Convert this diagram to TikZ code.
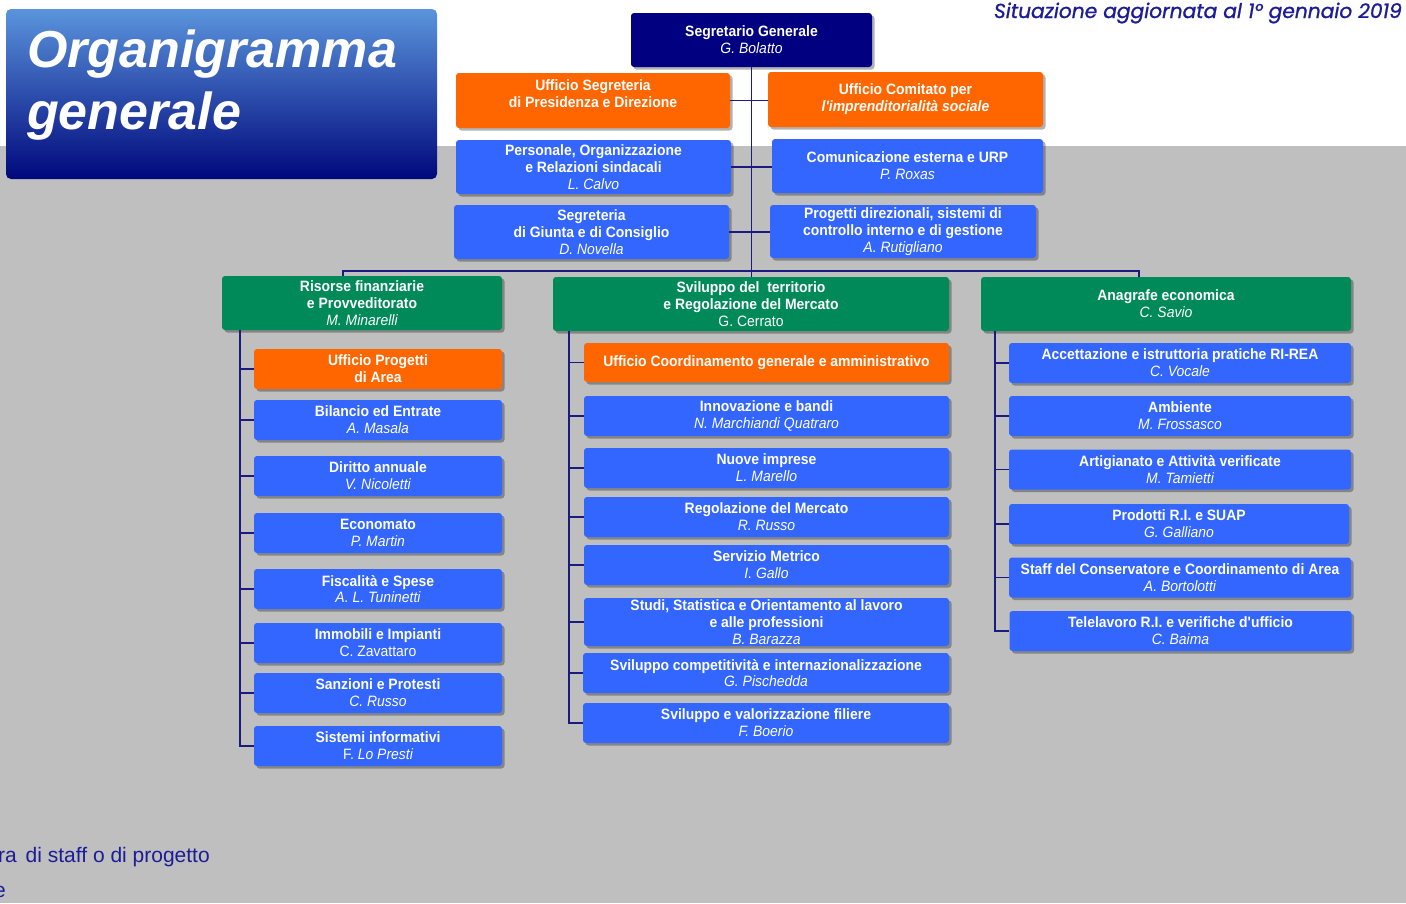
\documentclass[tikz,border=0pt]{standalone}
\usepackage{fontspec}
\setmainfont{Liberation Sans}
\newfontfamily\nf[FakeStretch=0.93]{Liberation Sans}
\newfontfamily\sitfont[FakeBold=1]{Poppins}
\usetikzlibrary{shadows}
\definecolor{bggray}{HTML}{BFBFBF}
\definecolor{cnavy}{HTML}{000080}
\definecolor{corange}{HTML}{FF6600}
\definecolor{cblue}{HTML}{3366FF}
\definecolor{cgreen}{HTML}{008A5A}
\definecolor{cline}{HTML}{1A1A80}
\definecolor{ctitletop}{HTML}{5A94DC}
\definecolor{ctitlebot}{HTML}{00087C}
\definecolor{ctext}{HTML}{1C1C98}
\newcommand\nm[1]{{\mdseries\itshape #1}}
\tikzset{
  box/.style={rounded corners=3pt, inner sep=0pt, text=white, align=center,
    font={\nf\fontsize{15}{16.8}\selectfont\bfseries},
    drop shadow={shadow xshift=2.5pt, shadow yshift=-2.5pt, opacity=.3, fill=black}},
  sz/.style 2 args={minimum width=#1pt, minimum height=#2pt},
  nbox/.style={box, fill=cnavy},
  obox/.style={box, fill=corange},
  bbox/.style={box, fill=cblue},
  gbox/.style={box, fill=cgreen},
  conn/.style={draw=cline, line width=1.4pt},
  lbox/.style={bbox, sz={248}{40}},
  mbox/.style={bbox, sz={365}{40}},
  rbox/.style={bbox, sz={342}{40}},
}
\begin{document}
\begin{tikzpicture}[x=1pt,y=-1pt]
\useasboundingbox (0,0) rectangle (1406,903);
\fill[white] (0,0) rectangle (1406,146);
\fill[bggray] (0,146) rectangle (1406,903);

% title
\node[rounded corners=5pt, top color=ctitletop, bottom color=ctitlebot, sz={431}{170}, inner sep=0] (tbox) at (221.5,94) {};
\node[anchor=base west, inner sep=0, text=white, font={\bfseries\itshape\fontsize{52}{52}\selectfont}] (t1) at (27,67) {Organigramma};
\node[anchor=base west, inner sep=0, text=white, font={\bfseries\itshape\fontsize{52}{52}\selectfont}] (t2) at (27,129) {generale};

\node[anchor=base east, inner sep=0, text=ctext, font={\sitfont\itshape\fontsize{20.2}{20.2}\selectfont}] (sit) at (1402,18) {Situazione aggiornata al 1° gennaio 2019};

% top
\node[nbox, sz={241}{54}] (seg) at (751.5,40) {Segretario Generale\\\nm{G. Bolatto}};
\node[obox, sz={274}{55}, text depth=14pt] (usp) at (593,100.5) {Ufficio Segreteria\\di Presidenza e Direzione};
\node[obox, sz={275}{55}] (ucs) at (905.5,99.5) {Ufficio Comitato per\\\itshape l'imprenditorialità sociale};
\node[bbox, sz={275}{54}] (pers) at (593.5,167) {Personale, Organizzazione\\e Relazioni sindacali\\\nm{L. Calvo}};
\node[bbox, sz={271}{54}] (com) at (907.5,166) {Comunicazione esterna e URP\\\nm{P. Roxas}};
\node[bbox, sz={275}{54}] (sgc) at (591.5,232) {Segreteria\\di Giunta e di Consiglio\\\nm{D. Novella}};
\node[bbox, sz={266}{53}] (prog) at (903,231.5) {Progetti direzionali, sistemi di\\controllo interno e di gestione\\\nm{A. Rutigliano}};

% areas
\node[gbox, sz={280}{54}] (ris) at (362,303) {Risorse finanziarie\\e Provveditorato\\\nm{M. Minarelli}};
\node[gbox, sz={396}{54}] (svil) at (751,304) {Sviluppo del\ \ territorio\\e Regolazione del Mercato\\{\mdseries G. Cerrato}};
\node[gbox, sz={370}{54}] (anag) at (1166,304) {Anagrafe economica\\\nm{C. Savio}};

% left column
\node[obox, sz={248}{40}] (upa) at (378,369) {Ufficio Progetti\\di Area};
\node[lbox] (bil) at (378,420) {Bilancio ed Entrate\\\nm{A. Masala}};
\node[lbox] (dir) at (378,476) {Diritto annuale\\\nm{V. Nicoletti}};
\node[lbox] (eco) at (378,533) {Economato\\\nm{P. Martin}};
\node[lbox] (fis) at (378,589) {Fiscalità e Spese\\\nm{A. L. Tuninetti}};
\node[lbox] (imm) at (378,643) {Immobili e Impianti\\{\mdseries C. Zavattaro}};
\node[lbox] (san) at (378,693) {Sanzioni e Protesti\\\nm{C. Russo}};
\node[lbox] (sis) at (378,746) {Sistemi informativi\\{\mdseries F. \itshape Lo Presti}};

% middle column
\node[obox, sz={365}{39}] (ucg) at (766.5,362.5) {Ufficio Coordinamento generale e amministrativo};
\node[mbox] (inn) at (766.5,416) {Innovazione e bandi\\\nm{N. Marchiandi Quatraro}};
\node[mbox] (nuo) at (766.5,468) {Nuove imprese\\\nm{L. Marello}};
\node[mbox] (reg) at (766.5,517) {Regolazione del Mercato\\\nm{R. Russo}};
\node[mbox] (ser) at (766.5,565) {Servizio Metrico\\\nm{I. Gallo}};
\node[bbox, sz={365}{48}] (stu) at (766.5,622) {Studi, Statistica e Orientamento al lavoro\\e alle professioni\\\nm{B. Barazza}};
\node[bbox, sz={366}{40}] (cmp) at (766,673) {Sviluppo competitività e internazionalizzazione\\\nm{G. Pischedda}};
\node[bbox, sz={366}{40}] (fil) at (766,723) {Sviluppo e valorizzazione filiere\\\nm{F. Boerio}};

% right column
\node[rbox] (acc) at (1180,363) {Accettazione e istruttoria pratiche RI-REA\\\nm{C. Vocale}};
\node[rbox] (amb) at (1180,416) {Ambiente\\\nm{M. Frossasco}};
\node[rbox] (art) at (1180,469.5) {Artigianato e Attività verificate\\\nm{M. Tamietti}};
\node[bbox, sz={340}{40}] (prd) at (1179,524) {Prodotti R.I. e SUAP\\\nm{G. Galliano}};
\node[rbox] (stf) at (1180,577.5) {Staff del Conservatore e Coordinamento di Area\\\nm{A. Bortolotti}};
\node[rbox] (tel) at (1180.5,631) {Telelavoro R.I. e verifiche d'ufficio\\\nm{C. Baima}};

% connectors
\draw[conn] (seg.south) -- (seg.south |- svil.north);
\draw[conn] (usp.east) -- (usp.east -| ucs.west);
\draw[conn] (pers.east) -- (pers.east -| com.west);
\draw[conn] (sgc.east) -- (sgc.east -| prog.west);
\coordinate (barL) at (343,271);
\coordinate (barR) at (1139,271);
\draw[conn] (barL |- ris.north) -- (barL) -- (barR) -- (barR |- anag.north);

\coordinate (lt) at (240,330);
\draw[conn] (lt) |- (sis.west);
\foreach \n in {upa,bil,dir,eco,fis,imm,san} \draw[conn] (lt |- \n.west) -- (\n.west);
\coordinate (mt) at (569,331);
\draw[conn] (mt) |- (fil.west);
\foreach \n in {ucg,inn,nuo,reg,ser,stu,cmp} \draw[conn] (mt |- \n.west) -- (\n.west);
\coordinate (rt) at (995,331);
\draw[conn] (rt) |- (tel.west);
\foreach \n in {acc,amb,art,prd,stf} \draw[conn] (rt |- \n.west) -- (\n.west);

% bottom legend text (cut at left edge, as in the reference)
\node[anchor=base west, inner sep=0, text=ctext, font={\fontsize{21}{21}\selectfont}] (leg1) at (-2,862) {ra\hspace{3pt} di staff o di progetto};
\node[anchor=base west, inner sep=0, text=ctext, font={\fontsize{21}{21}\selectfont}] (leg2) at (-6,897) {e};
\end{tikzpicture}
\end{document}
